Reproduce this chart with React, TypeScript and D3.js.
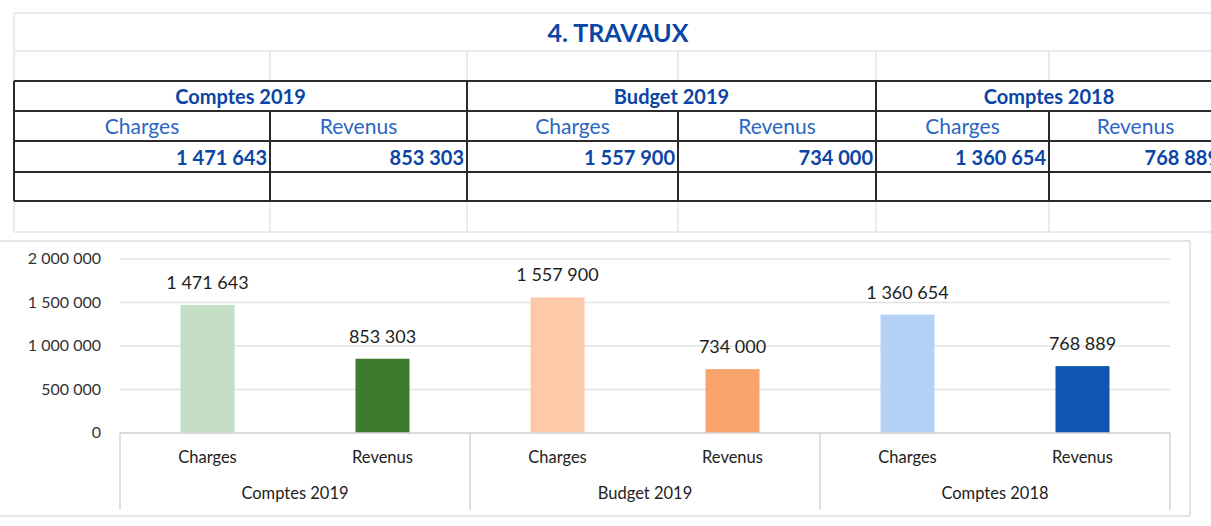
import React from "react";
import * as d3 from "d3";

const title = "4. TRAVAUX";
const groups = ["Comptes 2019", "Budget 2019", "Comptes 2018"];
const series = ["Charges", "Revenus"];
const charges = [1471643, 1557900, 1360654];
const revenus = [853303, 734000, 768889];
const yTicks = [0, 500000, 1000000, 1500000, 2000000];
const colors = [
  ["#c4dfc6", "#3d7a2c"],
  ["#fccaa8", "#f8a46c"],
  ["#b4d2f5", "#1155b3"],
];

const W = 1211;
const H = 526;
const FONT = "Lato, 'Open Sans', sans-serif";
const BLUE_DARK = "#0b45a5";
const BLUE_LIGHT = "#2b67c2";

const fmt = (v: number) => d3.format(",")(v).replace(/,/g, " ");

export default function App() {
  const values = groups.map((_, i) => [charges[i], revenus[i]]);

  // chart scales
  const x0 = d3.scaleBand<string>().domain(groups).range([120, 1170]).padding(0);
  const x1 = d3.scaleBand<string>().domain(series).range([0, x0.bandwidth()]).padding(0);
  const y = d3.scaleLinear().domain([0, 2000000]).range([433, 259]);
  const barW = 54;

  // table scales
  const tGroup = d3.scaleOrdinal<string, [number, number]>().domain(groups).range([
    [14, 467],
    [467, 876],
    [876, 1222],
  ]);
  const subSplit = [270, 678, 1049];
  const rows = [81, 111, 141, 172, 201];

  const faint = "#e4e4e4";

  return (
    <svg width={W} height={H} style={{ display: "block", position: "absolute", left: 0, top: 0 }}>
      <rect width={W} height={H} fill="#ffffff" />
      {/* spreadsheet faint grid */}
      <g stroke={faint} strokeWidth={1.5}>
        <line x1={14} x2={W} y1={13} y2={13} />
        <line x1={14} x2={W} y1={51} y2={51} />
        <line x1={14} x2={W} y1={232} y2={232} />
        <line x1={14} y1={13} x2={14} y2={232} />
        {[270, 467, 678, 876, 1049].map((xv) => (
          <g key={xv}>
            <line x1={xv} x2={xv} y1={51} y2={81} />
            <line x1={xv} x2={xv} y1={201} y2={232} />
          </g>
        ))}
      </g>
      {/* title */}
      <text x={618} y={42} textAnchor="middle" fontFamily={FONT} fontWeight={700} fontSize={25} fill={BLUE_DARK}>
        {title}
      </text>
      {/* table */}
      <g stroke="#2a2a2a" strokeWidth={2} fill="none">
        {rows.map((r) => (
          <line key={r} x1={14} x2={W} y1={r} y2={r} />
        ))}
        {groups.map((g) => {
          const [a] = tGroup(g);
          return <line key={g} x1={a} x2={a} y1={rows[0]} y2={rows[4]} />;
        })}
        {subSplit.map((s) => (
          <line key={s} x1={s} x2={s} y1={rows[1]} y2={rows[4]} />
        ))}
      </g>
      {groups.map((g, i) => {
        const [a, b] = tGroup(g);
        const s = subSplit[i];
        const cells: [number, number][] = [
          [a, s],
          [s, b],
        ];
        return (
          <g key={g} fontFamily={FONT}>
            <text x={(a + b) / 2} y={104} textAnchor="middle" fontWeight={700} fontSize={20} fill={BLUE_DARK}>
              {g}
            </text>
            {series.map((sn, j) => (
              <text key={sn} x={(cells[j][0] + cells[j][1]) / 2 - (i === 0 && j === 1 ? 10 : 0)} y={134} textAnchor="middle" fontSize={21} fill={BLUE_LIGHT}>
                {sn}
              </text>
            ))}
            {series.map((sn, j) => (
              <text key={sn + "v"} x={cells[j][1] - 3} y={165} textAnchor="end" fontWeight={700} fontSize={20} fill={BLUE_DARK}>
                {fmt(values[i][j])}
              </text>
            ))}
          </g>
        );
      })}
      {/* chart frame */}
      <g stroke="#dcdcdc" strokeWidth={1.5} fill="none">
        <line x1={0} x2={1190} y1={241} y2={241} />
        <line x1={1190} x2={1190} y1={241} y2={516} />
        <line x1={0} x2={1190} y1={516} y2={516} />
      </g>
      {/* gridlines */}
      <g stroke="#e3e3e3" strokeWidth={1.5}>
        {yTicks.map((t) => (
          <line key={t} x1={120} x2={1170} y1={y(t)} y2={y(t)} />
        ))}
      </g>
      {/* y labels */}
      <g fontFamily={FONT} fontSize={16} fill="#333" textAnchor="end">
        {yTicks.map((t) => (
          <text key={t} x={101} y={y(t) + 5}>
            {fmt(t)}
          </text>
        ))}
      </g>
      {/* bars */}
      {groups.map((g, i) => (
        <g key={g}>
          {series.map((sn, j) => {
            const cx = (x0(g) ?? 0) + (x1(sn) ?? 0) + x1.bandwidth() / 2;
            const v = values[i][j];
            return (
              <g key={sn}>
                <rect x={cx - barW / 2} y={y(v)} width={barW} height={y(0) - y(v)} fill={colors[i][j]} />
                <text x={cx} y={y(v) - 16} textAnchor="middle" fontFamily={FONT} fontSize={18} fill="#1e1e1e">
                  {fmt(v)}
                </text>
                <text x={cx} y={463} textAnchor="middle" fontFamily={FONT} fontSize={16.5} fill="#222">
                  {sn}
                </text>
              </g>
            );
          })}
          <text x={(x0(g) ?? 0) + x0.bandwidth() / 2} y={499} textAnchor="middle" fontFamily={FONT} fontSize={16.5} fill="#222">
            {g}
          </text>
        </g>
      ))}
      {/* category axis */}
      <g stroke="#d6d6d6" strokeWidth={1.5}>
        <line x1={120} x2={1170} y1={y(0)} y2={y(0)} />
        {groups.map((g) => (
          <line key={g} x1={x0(g) ?? 0} x2={x0(g) ?? 0} y1={y(0)} y2={510} />
        ))}
        <line x1={1170} x2={1170} y1={y(0)} y2={510} />
      </g>
    </svg>
  );
}
